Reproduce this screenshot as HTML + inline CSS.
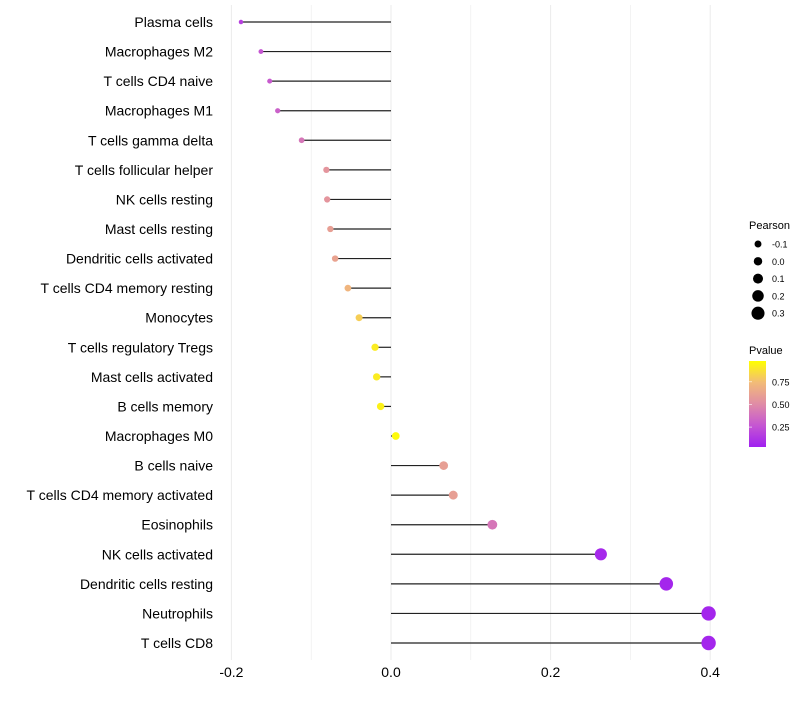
<!DOCTYPE html>
<html><head><meta charset="utf-8"><style>
body{margin:0;background:#fff;font-family:"Liberation Sans",sans-serif}
</style></head><body>
<svg id="chart" width="800" height="700" xmlns="http://www.w3.org/2000/svg">
<defs><linearGradient id="pg" x1="0" y1="1" x2="0" y2="0">
<stop offset="0" stop-color="#a020f0"/><stop offset="0.25" stop-color="#c556d2"/><stop offset="0.5" stop-color="#e08ca6"/><stop offset="0.75" stop-color="#f2bb78"/><stop offset="1" stop-color="#ffff00"/></linearGradient></defs>
<g id="grid"></g><g id="marks"></g><g id="labels"></g><g id="legend"></g>
</svg>
<script>
const categories=["Plasma cells","Macrophages M2","T cells CD4 naive","Macrophages M1","T cells gamma delta","T cells follicular helper","NK cells resting","Mast cells resting","Dendritic cells activated","T cells CD4 memory resting","Monocytes","T cells regulatory  Tregs","Mast cells activated","B cells memory","Macrophages M0","B cells naive","T cells CD4 memory activated","Eosinophils","NK cells activated","Dendritic cells resting","Neutrophils","T cells CD8"];
const pearson=[-0.188,-0.163,-0.152,-0.142,-0.112,-0.081,-0.080,-0.076,-0.070,-0.054,-0.040,-0.020,-0.018,-0.013,0.006,0.066,0.078,0.127,0.263,0.345,0.398,0.398];
const pvalue=[0.15,0.25,0.27,0.3,0.4,0.55,0.55,0.6,0.62,0.72,0.82,0.93,0.93,0.95,0.98,0.6,0.6,0.4,0.04,0.03,0.03,0.03];
const xTicks=[-0.2,0,0.2,0.4];
const xTickLabels=["-0.2","0.0","0.2","0.4"];
const sizeBreaks=[-0.1,0,0.1,0.2,0.3];
const sizeLabels=["-0.1","0.0","0.1","0.2","0.3"];
const colorBreaks=[0.75,0.5,0.25];
const colorLabels=["0.75","0.50","0.25"];
const NS="http://www.w3.org/2000/svg";
const x=v=>391+v*798;
const y=i=>22+i*(643-22)/(categories.length-1);
const r=v=>2.2+(v+0.19)*8.5;
const stops=[[0,[160,32,240]],[0.25,[197,86,210]],[0.5,[224,140,166]],[0.75,[242,187,120]],[1,[255,255,0]]];
function col(p){p=Math.max(0,Math.min(1,p));for(let k=1;k<stops.length;k++){if(p<=stops[k][0]){const a=stops[k-1],b=stops[k];const t=(p-a[0])/(b[0]-a[0]);return "rgb("+a[1].map((c,j)=>Math.round(c+(b[1][j]-c)*t)).join(",")+")";}}return "rgb(255,255,0)";}
function mk(parent,tag,attrs){const e=document.createElementNS(NS,tag);for(const k in attrs)e.setAttribute(k,attrs[k]);document.getElementById(parent).appendChild(e);return e;}
// grid
for(let v=-0.2;v<=0.41;v+=0.1){const g=mk("grid","line",{x1:x(v),x2:x(v),y1:5,y2:660,stroke:"#ebebeb","stroke-width":Math.abs(v*10-Math.round(v*10))<1e-6&&Math.round(v*10)%2===0?1:0.6});

}
xTicks.forEach((t,i)=>{const e=mk("labels","text",{x:x(t),y:677,"text-anchor":"middle","font-size":14,fill:"#000"});e.textContent=xTickLabels[i];

});
categories.forEach((c,i)=>{
const l=mk("marks","line",{x1:x(0),x2:x(pearson[i]),y1:y(i),y2:y(i),stroke:"#222","stroke-width":1.2});


const d=mk("marks","circle",{cx:x(pearson[i]),cy:y(i),r:r(pearson[i]),fill:col(pvalue[i])});


const t=mk("labels","text",{x:213,y:y(i)+5,"text-anchor":"end","font-size":14,fill:"#000"});t.textContent=c;

});
// legends
const lt=mk("legend","text",{x:749,y:229,"font-size":11});lt.textContent="Pearson";


sizeBreaks.forEach((s,i)=>{const cy=244+i*17.3;
const c=mk("legend","circle",{cx:758,cy:cy,r:r(s)*0.9+0.8,fill:"#000"});


const t=mk("legend","text",{x:772,y:cy+3.5,"font-size":9});t.textContent=sizeLabels[i];

});
const pt=mk("legend","text",{x:749,y:354,"font-size":11});pt.textContent="Pvalue";


const bar=mk("legend","rect",{x:749,y:361,width:17,height:86,fill:"url(#pg)"});


colorBreaks.forEach((b,i)=>{const yy=447-(b-0.03)/(0.98-0.03)*86;
const tk=mk("legend","line",{x1:749,x2:752,y1:yy,y2:yy,stroke:"#fff","stroke-width":0.6});


const t=mk("legend","text",{x:772,y:yy+3.5,"font-size":9});t.textContent=colorLabels[i];

});
</script>
</body></html>
